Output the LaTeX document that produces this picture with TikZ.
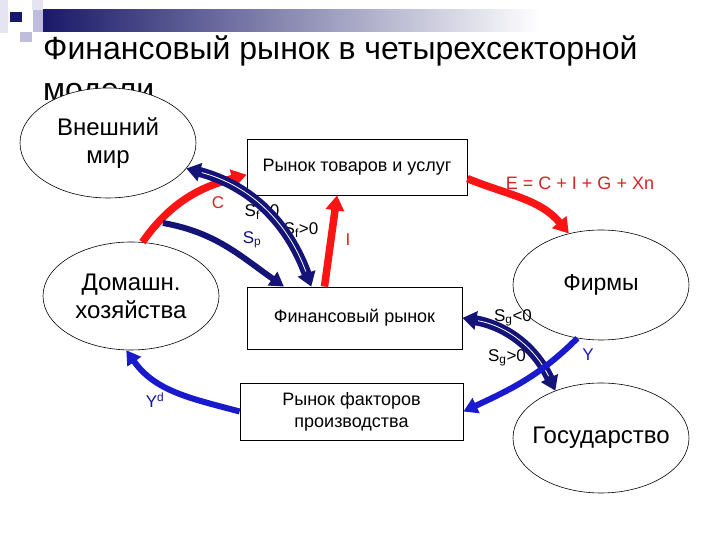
\documentclass[tikz,border=0pt]{standalone}
\usepackage{fontspec}
\setmainfont{Liberation Sans}
\usetikzlibrary{shapes.geometric,arrows.meta}
\definecolor{navyflow}{RGB}{20,20,120}
\definecolor{blueflow}{RGB}{25,25,205}
\definecolor{redflow}{RGB}{250,20,20}
\definecolor{redlabel}{RGB}{215,35,35}
\definecolor{barnavy}{RGB}{25,25,105}
\definecolor{barmid}{RGB}{140,140,185}
\definecolor{lavdark}{RGB}{190,190,220}
\definecolor{lavlight}{RGB}{228,228,242}

\begin{document}
\begin{tikzpicture}[x=1pt, y=1pt,
	sector/.style={ellipse, draw, fill=white, line width=0.6pt, minimum width=176pt, minimum height=110pt, inner sep=-8pt, align=center, font=\fontsize{24}{28}\selectfont},
	market/.style={rectangle, draw, fill=white, line width=0.8pt, inner sep=0pt, align=center, font=\fontsize{18}{22}\selectfont},
	lbl/.style={font=\fontsize{17}{18}\selectfont, inner sep=0pt},
	slbl/.style={font=\fontsize{17}{20}\selectfont, inner sep=0pt},
	redarrow/.style={redflow, line width=7.5pt, -{Triangle[length=15pt,width=18pt]}},
	navyarrow/.style={navyflow, line width=6pt, -{Triangle[length=14pt,width=16pt]}},
	bluearrow/.style={blueflow, line width=6pt, -{Triangle[length=14pt,width=16pt]}},
	dbl/.style={navyflow, line width=10pt, {Triangle[length=14pt,width=18pt]}-{Triangle[length=14pt,width=18pt]}},
	dblcore/.style={white, line width=0.8pt, shorten <=16pt, shorten >=16pt}]
	\useasboundingbox[fill=white] (0,0) rectangle (720,540);
	\fill[lavlight] (0,507) rectangle (8,540);
	\fill[lavlight] (32,530) rectangle (43,540);
	\fill[lavdark] (20,498) rectangle (32,508);
	\fill[lavdark] (33,508) rectangle (43,530);
	\fill[barnavy] (10,518) rectangle (22,528);
	\shade[left color=barnavy, middle color=barmid, right color=white] (43,508) rectangle (540,530);
	\node[anchor=base west, inner sep=0pt, font=\fontsize{32}{37}\selectfont] (title) at (43,480) {Финансовый рынок в четырехсекторной};
	\node[anchor=base west, inner sep=0pt, font=\fontsize{32}{37}\selectfont] (title2) at (43,439) {модели};
	\node[sector] (ext) at (108,397) {Внешний\\мир};
	\node[sector, minimum height=108pt] (dom) at (131,244) {Домашн.\\хозяйства};
	\node[sector, font=\fontsize{23}{26}\selectfont] (firm) at (601,255) {Фирмы};
	\node[sector] (gov) at (601,102) {Государство};
	\node[market, minimum width=220pt, minimum height=56pt] (goods) at (357,373) {Рынок товаров и услуг};
	\node[market, minimum width=215pt, minimum height=62pt] (fin) at (354.5,222) {Финансовый рынок};
	\node[market, minimum width=223pt, minimum height=57pt] (factor) at (351.5,128.5) {Рынок факторов\\производства};
	\node[lbl, redlabel] (lc) at (218,337) {C};
	\node[lbl, redlabel] (li) at (348,300) {I};
	\node[lbl, redlabel, font=\fontsize{18}{20}\selectfont] (le) at (580,357) {E = C + I + G + Xn};
	\node[slbl, navyflow] (lsp) at (252,300) {S\textsubscript{p}};
	\node[slbl] (lsf1) at (262,328) {S\textsubscript{f}<0};
	\node[slbl] (lsf2) at (301,310) {S\textsubscript{f}>0};
	\node[slbl] (lsg1) at (513,222) {S\textsubscript{g}<0};
	\node[slbl] (lsg2) at (507,182) {S\textsubscript{g}>0};
	\node[lbl, blueflow] (ly) at (588,185) {Y};
	\node[lbl, blueflow!80!black] (lyd) at (155,140) {Y\textsuperscript{d}};
	\coordinate (sp) at (163,317);
	\draw[redarrow] (dom.78) to[out=55, in=195] (goods.184);
	\draw[redarrow] (goods.-6) to[out=-22, in=130] (firm.122);
	\draw[redarrow] ([xshift=-30pt]fin.north) -- ([xshift=-20pt]goods.south);
	\draw[navyarrow] (sp) to[out=-10, in=145] (fin.156);
	\foreach \a/\b/\o/\i in {ext.-18/fin.144/-15/110, fin.east/gov.134/-10/115} {
		\draw[dbl] (\a) to[out=\o, in=\i] (\b);
		\draw[dblcore] (\a) to[out=\o, in=\i] (\b);
	}
	\draw[bluearrow] (firm.246) to[out=225, in=25] (factor.east);
	\draw[bluearrow] (factor.west) to[out=165, in=-55] (dom.265);
\end{tikzpicture}
\end{document}
